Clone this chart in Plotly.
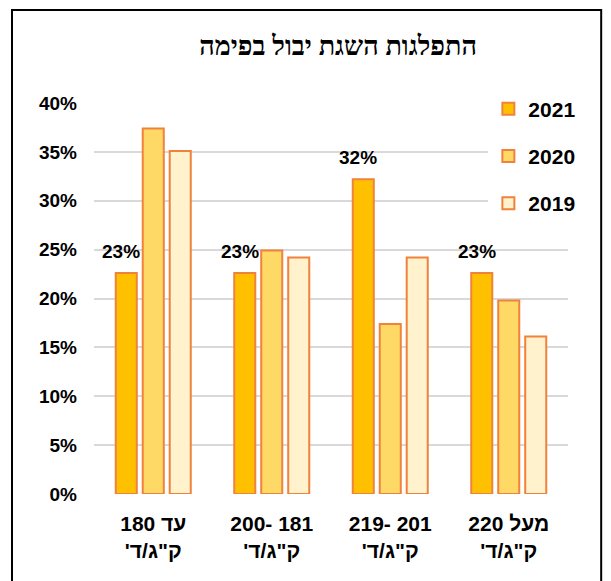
import plotly.graph_objects as go

# data (percent of fields per yield class)
categories = ["עד 180", "181-200", "201-219", "מעל 220"]
tick_text = [
    "\u202bעד 180\u202c<br>\u202bק\"ג/ד'\u202c",
    "200- 181<br>\u202bק\"ג/ד'\u202c",
    "219- 201<br>\u202bק\"ג/ד'\u202c",
    "\u202bמעל 220\u202c<br>\u202bק\"ג/ד'\u202c",
]
years = ["2021", "2020", "2019"]
values_2021 = [22.6, 22.6, 32.2, 22.6]
values_2020 = [37.4, 24.9, 17.4, 19.8]
values_2019 = [35.1, 24.2, 24.2, 16.1]
y_ticks = [0, 5, 10, 15, 20, 25, 30, 35, 40]

series = [values_2021, values_2020, values_2019]
fills = ["#FFC000", "#FFD966", "#FFF2CC"]
edge = "#F0823C"

fig = go.Figure()

for year, vals, fill in zip(years, series, fills):
    fig.add_trace(go.Bar(
        name=f"<b>{year}</b>",
        x=categories,
        y=vals,
        marker=dict(color=fill, line=dict(color=edge, width=2)),
        legendgroup=year,
        hoverinfo="skip",
    ))

# value labels only on the 2021 bars
for cat, v in zip(categories, values_2021):
    fig.add_annotation(
        x=cat, y=v,
        text=f"<b>{v:.0f}%</b>",
        showarrow=False,
        xanchor="center", yanchor="bottom",
        xshift=-32, yshift=9,
        font=dict(size=19, color="#000000", family="Liberation Sans"),
    )

# outer frame
fig.add_shape(
    type="rect", xref="paper", yref="paper",
    x0=-0.173, x1=1.07, y0=-0.3, y1=1.238,
    line=dict(color="#000000", width=2),
    fillcolor="rgba(0,0,0,0)",
)

# page body has an 8px margin, so the figure is a bit smaller than the window
fig.update_layout(
    width=603, height=573,
    margin=dict(l=86, r=43, t=95, b=87),
    paper_bgcolor="#FFFFFF",
    plot_bgcolor="#FFFFFF",
    barmode="group",
    bargap=0.317,
    bargroupgap=0.22,
    title=dict(
        text="<b>התפלגות השגת יבול בפימה</b>",
        font=dict(size=27, color="#000000", family="Liberation Serif"),
        x=0.515, xref="paper", xanchor="center",
        y=0.935, yref="container", yanchor="middle",
    ),
    font=dict(family="Liberation Sans", color="#000000"),
    xaxis=dict(
        tickmode="array",
        tickvals=categories,
        ticktext=[f"<b>{t}</b>" for t in tick_text],
        tickfont=dict(size=21, color="#000000", family="Liberation Sans"),
        showgrid=False,
        showline=False,
        zeroline=False,
        ticks="",
        ticklabelstandoff=15,
    ),
    yaxis=dict(
        range=[0, 40],
        tickmode="array",
        tickvals=y_ticks,
        ticktext=[f"<b>{t}%</b>" for t in y_ticks],
        tickfont=dict(size=19, color="#000000", family="Liberation Sans"),
        showgrid=True,
        gridcolor="#D9D9D9",
        gridwidth=2,
        zeroline=False,
        showline=False,
        ticks="",
        ticklabelstandoff=16,
    ),
    legend=dict(
        x=0.832, y=1.037, xanchor="left", yanchor="top",
        bgcolor="#FFFFFF",
        font=dict(size=21, color="#000000", family="Liberation Sans"),
        tracegroupgap=17,
        traceorder="grouped",
    ),
    showlegend=True,
)

fig.write_html("out.html")
